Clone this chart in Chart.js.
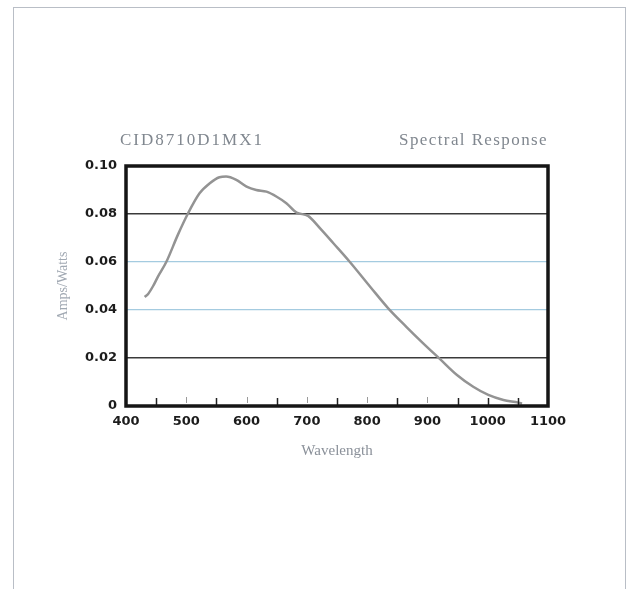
<!DOCTYPE html>
<html>
<head>
<meta charset="utf-8">
<script src="https://cdn.jsdelivr.net/npm/chart.js@4/dist/chart.umd.min.js"></script>
<style>
  html, body { margin: 0; padding: 0; background: #ffffff; }
  #wrap { position: relative; width: 637px; height: 589px; overflow: hidden; }
  #frame { position: absolute; left: 13px; top: 7px; width: 613px; height: 600px;
           border: 1px solid #b9bec6; box-sizing: border-box; }
  canvas { position: absolute; left: 0; top: 0; }
  .ttl { position: absolute; font-family: "Liberation Serif", "DejaVu Serif", serif;
         color: #80878f; font-size: 17px; line-height: 20px; white-space: nowrap; }
  #t1 { left: 120px; top: 130px; letter-spacing: 2px; }
  #t2 { right: 89px; top: 130px; letter-spacing: 1.4px; }
</style>
</head>
<body>
<div id="wrap">
  <div id="frame"></div>
  <canvas id="c" width="637" height="589"></canvas>
  <div class="ttl" id="t1">CID8710D1MX1</div>
  <div class="ttl" id="t2">Spectral Response</div>
</div>
<script>
// ---- data ----
const wavelengths = [431, 437, 445, 453, 467, 486, 503, 522, 539, 555, 566, 583, 600, 616, 633, 650, 666, 683, 702, 722, 744, 771, 805, 835, 865, 893, 921, 949, 976, 1001, 1026, 1051, 1057];
const response    = [0.0454, 0.0468, 0.0500, 0.0539, 0.0601, 0.0713, 0.0803, 0.0886, 0.0928, 0.0953, 0.0956, 0.0942, 0.0914, 0.0900, 0.0893, 0.0872, 0.0845, 0.0806, 0.0792, 0.0740, 0.0678, 0.0601, 0.0497, 0.0407, 0.0330, 0.0261, 0.0195, 0.0129, 0.0080, 0.0046, 0.0025, 0.0014, 0.0010];
const xTicks = [400, 500, 600, 700, 800, 900, 1000, 1100];
const yTicks = [0, 0.02, 0.04, 0.06, 0.08, 0.10];
const minorTicks = [450, 550, 650, 750, 850, 950, 1000, 1050];
const faintTicks = [500, 600, 700, 800, 900];
const xTitle = "Wavelength";
const yTitle = "Amps/Watts";

const points = wavelengths.map((w, i) => ({ x: w, y: response[i] }));

const frameAndTicks = {
  id: 'frameAndTicks',
  afterDatasetsDraw(chart) {
    const { ctx, chartArea: a, scales: { x } } = chart;
    ctx.save();
    ctx.strokeStyle = '#222';
    ctx.lineWidth = 1.5;
    minorTicks.forEach(v => {
      const px = Math.round(x.getPixelForValue(v)) + 0.5;
      ctx.beginPath();
      ctx.moveTo(px, a.bottom);
      ctx.lineTo(px, a.bottom - 8);
      ctx.stroke();
    });
    ctx.strokeStyle = '#9a9a9a';
    ctx.lineWidth = 1;
    faintTicks.forEach(v => {
      const px = Math.round(x.getPixelForValue(v)) + 0.5;
      ctx.beginPath();
      ctx.moveTo(px, a.bottom - 3);
      ctx.lineTo(px, a.bottom - 9);
      ctx.stroke();
    });
    ctx.strokeStyle = '#151515';
    ctx.lineWidth = 3.5;
    ctx.strokeRect(a.left, a.top, a.right - a.left, a.bottom - a.top);
    ctx.restore();
  }
};

new Chart(document.getElementById('c'), {
  type: 'line',
  data: {
    datasets: [{
      data: points,
      borderColor: '#939393',
      borderWidth: 2.5,
      pointRadius: 0,
      fill: false,
      tension: 0.4,
      cubicInterpolationMode: 'monotone'
    }]
  },
  options: {
    responsive: false,
    animation: false,
    layout: { padding: { left: 0, top: 166, right: 89, bottom: 123 } },
    plugins: { legend: { display: false }, tooltip: { enabled: false } },
    scales: {
      x: {
        type: 'linear',
        min: 400, max: 1100,
        afterBuildTicks(s) { s.ticks = xTicks.map(v => ({ value: v })); },
        afterFit(s) { s.height = 60; },
        grid: { display: false, drawTicks: false },
        border: { display: false },
        ticks: {
          padding: 8,
          color: '#1c1c1c',
          font: { family: 'DejaVu Sans', size: 13, weight: 'bold' },
          maxRotation: 0,
          callback(v) { return String(v); }
        },
        title: {
          display: true, text: xTitle, color: '#8a9099',
          font: { family: 'Liberation Serif', size: 15 },
          padding: { top: 0, bottom: 6 }
        }
      },
      y: {
        min: 0, max: 0.1,
        afterBuildTicks(s) { s.ticks = yTicks.map(v => ({ value: v })); },
        afterFit(s) { s.width = 126; },
        grid: {
          drawTicks: false,
          color(ctx) {
            const v = Math.round((ctx.tick ? ctx.tick.value : 0) * 100);
            if (v === 2 || v === 8) return '#3a3a3a';
            return '#a4cbe0';
          },
          lineWidth(ctx) {
            const v = Math.round((ctx.tick ? ctx.tick.value : 0) * 100);
            return (v === 2 || v === 8) ? 1.5 : 1.2;
          }
        },
        border: { display: false },
        ticks: {
          padding: 9,
          color: '#1c1c1c',
          font: { family: 'DejaVu Sans', size: 13, weight: 'bold' },
          callback(v) { return v === 0 ? '0' : v.toFixed(2); }
        },
        title: {
          display: true, text: yTitle, color: '#a0a8b2',
          font: { family: 'Liberation Serif', size: 14 },
          padding: { top: 55, bottom: 0 }
        }
      }
    }
  },
  plugins: [frameAndTicks]
});
</script>
</body>
</html>
